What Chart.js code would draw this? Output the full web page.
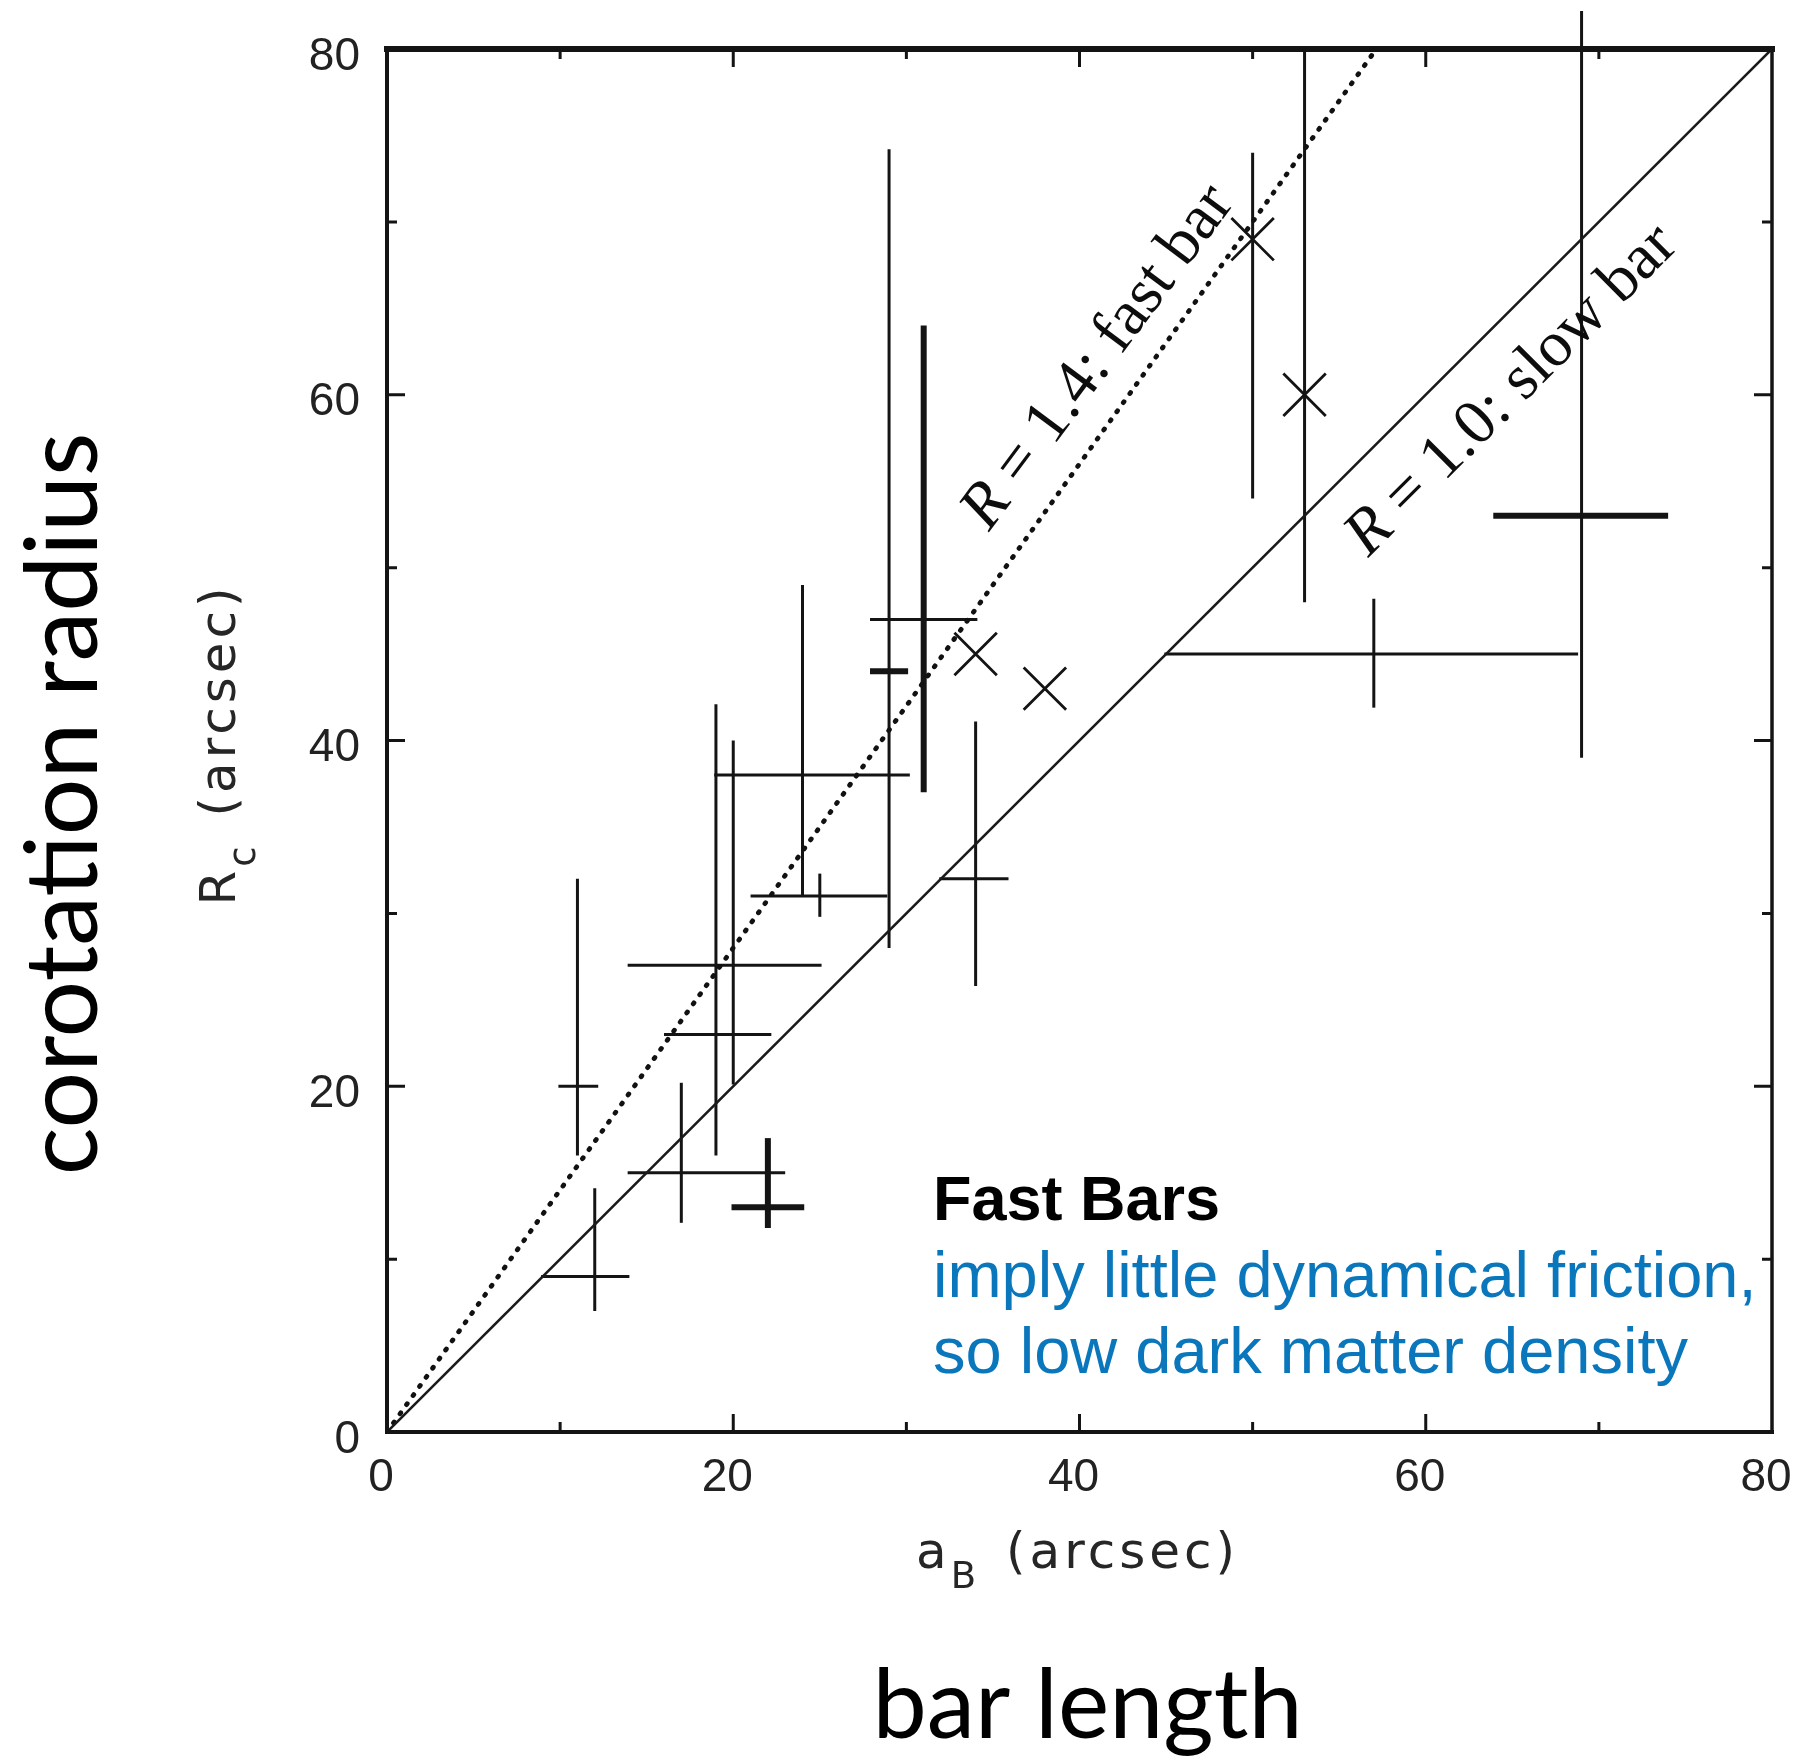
<!DOCTYPE html>
<html>
<head>
<meta charset="utf-8">
<script src="https://cdn.jsdelivr.net/npm/chart.js@4.4.1/dist/chart.umd.min.js"></script>
<style>
html,body{margin:0;padding:0;background:#ffffff;}
#wrap{width:1796px;height:1760px;position:relative;}
canvas{display:block;}
</style>
</head>
<body>
<div id="wrap"><canvas id="c" width="1796" height="1760"></canvas></div>
<script>
// ---------------- data ----------------
const xTicks = [0, 20, 40, 60, 80];
const yTicks = [0, 20, 40, 60, 80];
const minorTicks = [10, 30, 50, 70];

// error-bar crosses: centre, x range, y range
const crossX   = [11, 12, 17, 22, 19, 20, 24, 25, 29, 31, 34, 57, 69];
const crossY   = [20, 9, 15, 13, 23, 27, 38, 31, 44, 47, 32, 45, 53];
const crossXLo = [9.9, 8.9, 13.9, 19.9, 16.0, 13.9, 18.9, 21.0, 27.9, 27.9, 31.9, 44.9, 63.9];
const crossXHi = [12.2, 14.0, 23.0, 24.1, 22.2, 25.1, 30.2, 28.9, 30.1, 34.1, 35.9, 68.8, 74.0];
const crossYLo = [16.0, 7.0, 12.1, 11.8, 16.0, 20.1, 31.0, 29.8, 28.0, 37.0, 25.8, 41.9, 39.0];
const crossYHi = [32.0, 14.1, 20.2, 17.0, 42.1, 40.0, 49.0, 32.3, 74.2, 64.0, 41.1, 48.2, 82.2];

// "x" markers and their vertical ranges
const markX   = [34, 38, 50, 53];
const markY   = [45, 43, 69, 60];
const markYLo = [null, null, 54.0, 48.0];
const markYHi = [null, null, 74.0, 80.0];

// reference lines R = Rc / aB
const ratioFast = 1.4;
const ratioSlow = 1.0;

// texts
const fastLabel = ['R', ' = 1.4: fast bar'];
const slowLabel = ['R', ' = 1.0: slow bar'];
const noteTitle = 'Fast Bars';
const noteLines = ['imply little dynamical friction,', 'so low dark matter density'];
const yTitleParts = ['R', 'c', '(arcsec)'];
const xTitleParts = ['a', 'B', '(arcsec)'];
const bigYLabel = 'corotation radius';
const bigXLabel = 'bar length';

// ---------------- styles (kept apart from data) ----------------
const heavyV = [3, 9];
const heavyH = [3, 8, 12];
const INK = '#141414';
const THIN = 3;
const THICK = 6;

// ---------------- datasets ----------------
const datasets = [];
datasets.push({
  data: [{x: 0, y: 0}, {x: 80 / ratioSlow, y: 80}],
  showLine: true, borderColor: '#1a1a1a', borderWidth: 2.6, pointRadius: 0, pointHoverRadius: 0
});
datasets.push({
  data: [{x: 0, y: 0}, {x: 80 / ratioFast, y: 80}],
  showLine: true, borderColor: '#111', borderWidth: 4.8, borderDash: [1.2, 10],
  borderCapStyle: 'round', pointRadius: 0, pointHoverRadius: 0
});
for (let i = 0; i < crossX.length; i++) {
  datasets.push({
    data: [{x: crossX[i], y: crossYLo[i]}, {x: crossX[i], y: crossYHi[i]}],
    showLine: true, borderColor: INK, borderWidth: heavyV.includes(i) ? THICK : THIN,
    pointRadius: 0, pointHoverRadius: 0, clip: false
  });
  datasets.push({
    data: [{x: crossXLo[i], y: crossY[i]}, {x: crossXHi[i], y: crossY[i]}],
    showLine: true, borderColor: INK, borderWidth: heavyH.includes(i) ? THICK : THIN,
    pointRadius: 0, pointHoverRadius: 0, clip: false
  });
}
for (let i = 0; i < markX.length; i++) {
  if (markYLo[i] === null) continue;
  datasets.push({
    data: [{x: markX[i], y: markYLo[i]}, {x: markX[i], y: markYHi[i]}],
    showLine: true, borderColor: INK, borderWidth: THIN,
    pointRadius: 0, pointHoverRadius: 0, clip: false
  });
}
datasets.push({
  data: markX.map((x, i) => ({x: x, y: markY[i]})),
  showLine: false, pointStyle: 'crossRot', pointRadius: 30, pointHoverRadius: 30,
  borderColor: INK, borderWidth: 2.8, backgroundColor: 'rgba(0,0,0,0)'
});

// ---------------- plot geometry ----------------
const W = 1796, H = 1760;
const AREA = {left: 387, top: 49, right: 1772, bottom: 1432};

// pins the plot area to the reference position after Chart.js has done its layout
const pinPlugin = {
  id: 'pin',
  afterLayout(chart) {
    const a = chart.chartArea;
    a.left = AREA.left; a.right = AREA.right; a.top = AREA.top; a.bottom = AREA.bottom;
    a.width = AREA.right - AREA.left; a.height = AREA.bottom - AREA.top;
    const xs = chart.scales.x, ys = chart.scales.y;
    xs.left = AREA.left; xs.right = AREA.right; xs.width = a.width;
    xs.top = AREA.bottom; xs.bottom = H; xs.height = H - AREA.bottom;
    ys.left = 0; ys.right = AREA.left; ys.width = AREA.left;
    ys.top = AREA.top; ys.bottom = AREA.bottom; ys.height = a.height;
    xs.configure(); ys.configure();
  }
};

const framePlugin = {
  id: 'frame',
  afterDatasetsDraw(chart) {
    const {ctx, chartArea: a, scales: {x, y}} = chart;
    ctx.save();
    ctx.strokeStyle = INK;
    ctx.lineCap = 'butt';
    ctx.lineWidth = 3;
    xTicks.concat(minorTicks).forEach(v => {
      const len = xTicks.includes(v) ? 18 : 10;
      if (v <= x.min || v >= x.max) return;
      const px = x.getPixelForValue(v);
      ctx.beginPath();
      ctx.moveTo(px, a.bottom); ctx.lineTo(px, a.bottom - len);
      ctx.moveTo(px, a.top); ctx.lineTo(px, a.top + len);
      ctx.stroke();
    });
    yTicks.concat(minorTicks).forEach(v => {
      const len = yTicks.includes(v) ? 18 : 10;
      if (v <= y.min || v >= y.max) return;
      const py = y.getPixelForValue(v);
      ctx.beginPath();
      ctx.moveTo(a.left, py); ctx.lineTo(a.left + len, py);
      ctx.moveTo(a.right, py); ctx.lineTo(a.right - len, py);
      ctx.stroke();
    });
    // frame
    ctx.lineCap = 'square';
    ctx.lineWidth = 6;
    ctx.beginPath(); ctx.moveTo(a.left, a.top); ctx.lineTo(a.right, a.top); ctx.stroke();
    ctx.lineWidth = 4;
    ctx.beginPath(); ctx.moveTo(a.left, a.top); ctx.lineTo(a.left, a.bottom); ctx.lineTo(a.right, a.bottom); ctx.stroke();
    ctx.lineWidth = 3.5;
    ctx.beginPath(); ctx.moveTo(a.right, a.top); ctx.lineTo(a.right, a.bottom); ctx.stroke();
    ctx.restore();
  }
};

function drawSubTitle(ctx, parts, cx, baseY) {
  ctx.save();
  ctx.fillStyle = '#262626';
  try { ctx.letterSpacing = '4px'; } catch (e) {}
  ctx.textAlign = 'left';
  ctx.textBaseline = 'alphabetic';
  ctx.font = '50px "DejaVu Sans"';
  const w0 = ctx.measureText(parts[0]).width;
  const w2 = ctx.measureText(parts[2]).width;
  ctx.font = '37px "DejaVu Sans"';
  const w1 = ctx.measureText(parts[1]).width;
  const gap = 26;
  const total = w0 + w1 + gap + w2;
  let xx = cx - total / 2;
  ctx.font = '50px "DejaVu Sans"';
  ctx.fillText(parts[0], xx, baseY);
  xx += w0;
  ctx.font = '37px "DejaVu Sans"';
  ctx.fillText(parts[1], xx, baseY + 20);
  xx += w1 + gap;
  ctx.font = '50px "DejaVu Sans"';
  ctx.fillText(parts[2], xx, baseY);
  ctx.restore();
}

function drawRatioLabel(ctx, parts, cx, cy, angle, size) {
  ctx.save();
  ctx.translate(cx, cy);
  ctx.rotate(-angle);
  ctx.fillStyle = '#0d0d0d';
  ctx.textAlign = 'left';
  ctx.textBaseline = 'alphabetic';
  ctx.font = 'italic ' + size + 'px "Liberation Serif"';
  const wR = ctx.measureText(parts[0]).width;
  ctx.font = size + 'px "Liberation Serif"';
  const wRest = ctx.measureText(parts[1]).width;
  const x0 = -(wR + wRest) / 2;
  const base = size * 0.33;
  ctx.font = 'italic ' + size + 'px "Liberation Serif"';
  ctx.fillText(parts[0], x0, base);
  ctx.font = size + 'px "Liberation Serif"';
  ctx.fillText(parts[1], x0 + wR, base);
  ctx.restore();
}

const textPlugin = {
  id: 'texts',
  afterDraw(chart) {
    const {ctx, chartArea: a, scales: {x, y}} = chart;
    const midX = (a.left + a.right) / 2;
    const midY = (a.top + a.bottom) / 2;

    // axis titles
    drawSubTitle(ctx, xTitleParts, midX - 2, 1568);
    ctx.save();
    ctx.translate(235, midY + 4);
    ctx.rotate(-Math.PI / 2);
    drawSubTitle(ctx, yTitleParts, 0, 0);
    ctx.restore();

    // big labels
    ctx.save();
    ctx.fillStyle = '#000';
    ctx.textAlign = 'center';
    ctx.textBaseline = 'alphabetic';
    ctx.font = '97px Lato';
    ctx.fillText(bigXLabel, midX + 8, 1738);
    ctx.translate(97, 804);
    ctx.rotate(-Math.PI / 2);
    ctx.font = '100px Lato';
    ctx.fillText(bigYLabel, 0, 0);
    ctx.restore();

    // ratio labels along the lines
    const angFast = Math.atan2(y.getPixelForValue(0) - y.getPixelForValue(80),
                               x.getPixelForValue(80 / ratioFast) - x.getPixelForValue(0));
    const angSlow = Math.atan2(y.getPixelForValue(0) - y.getPixelForValue(80),
                               x.getPixelForValue(80 / ratioSlow) - x.getPixelForValue(0));
    drawRatioLabel(ctx, fastLabel, x.getPixelForValue(40.9), y.getPixelForValue(62.3), angFast - 0.02, 64);
    drawRatioLabel(ctx, slowLabel, x.getPixelForValue(64.8), y.getPixelForValue(60.4), angSlow, 64);

    // note
    ctx.save();
    ctx.textAlign = 'left';
    ctx.textBaseline = 'alphabetic';
    ctx.fillStyle = '#000';
    ctx.font = 'bold 63px "Liberation Sans"';
    ctx.fillText(noteTitle, 933, 1220);
    ctx.fillStyle = '#0a76bb';
    ctx.font = '65px "Liberation Sans"';
    ctx.fillText(noteLines[0], 933, 1297);
    ctx.fillText(noteLines[1], 933, 1373);
    ctx.restore();
  }
};

// ---------------- chart ----------------
const tickFont = {family: '"Liberation Sans", Arial, sans-serif', size: 46};

function noOverflow(s) {
  s.paddingLeft = 0; s.paddingRight = 0; s.paddingTop = 0; s.paddingBottom = 0;
}

const chart = new Chart(document.getElementById('c').getContext('2d'), {
  type: 'scatter',
  data: {datasets: datasets},
  options: {
    responsive: false,
    animation: false,
    events: [],
    layout: {padding: {left: 0, top: AREA.top, right: W - AREA.right, bottom: 0}},
    plugins: {legend: {display: false}, tooltip: {enabled: false}},
    scales: {
      x: {
        type: 'linear', min: 0, max: 80,
        afterFit(s) { s.height = H - AREA.bottom; noOverflow(s); },
        grid: {display: false}, border: {display: false},
        ticks: {stepSize: 20, padding: 11, labelOffset: -6, maxRotation: 0, autoSkip: false,
                font: tickFont, color: '#222'}
      },
      y: {
        type: 'linear', min: 0, max: 80,
        afterFit(s) { s.width = AREA.left; noOverflow(s); },
        grid: {display: false}, border: {display: false},
        ticks: {stepSize: 20, padding: 19, labelOffset: 8, autoSkip: false,
                font: tickFont, color: '#222'}
      }
    }
  },
  plugins: [pinPlugin, framePlugin, textPlugin]
});
</script>
</body>
</html>
